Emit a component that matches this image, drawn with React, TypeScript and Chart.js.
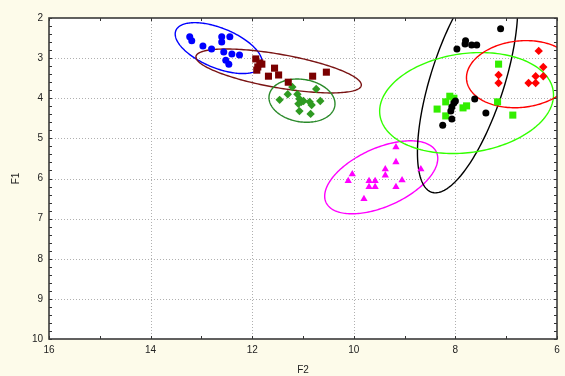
import React, { useEffect, useRef } from "react";
import { Chart, registerables } from "chart.js";
Chart.register(...registerables);

// Axis ticks
const xTicks = [16, 14, 12, 10, 8, 6];
const yTicks = [2, 3, 4, 5, 6, 7, 8, 9, 10];

// Group 1 (blue circles)
const blueX = [13.23, 13.19, 12.97, 12.8, 12.6, 12.6, 12.44, 12.56, 12.4, 12.25, 12.52, 12.46];
const blueY = [2.47, 2.57, 2.7, 2.77, 2.47, 2.6, 2.47, 2.85, 2.9, 2.92, 3.05, 3.15];
// Group 2 (maroon squares)
const maroonX = [11.93, 11.85, 11.89, 11.81, 11.91, 11.56, 11.48, 11.68, 11.29, 10.81, 10.54];
const maroonY = [3.02, 3.12, 3.22, 3.15, 3.3, 3.25, 3.42, 3.45, 3.6, 3.45, 3.35];
// Group 3 (green diamonds)
const greenX = [11.21, 10.74, 11.3, 11.46, 11.11, 11.07, 11.03, 11.09, 10.99, 10.87, 10.83, 10.66, 11.07, 10.85];
const greenY = [3.72, 3.77, 3.9, 4.04, 3.9, 4.02, 4.09, 4.14, 4.07, 4.09, 4.17, 4.07, 4.32, 4.39];
// Group 4 (black circles)
const blackX = [7.11, 7.8, 7.81, 7.68, 7.58, 7.97, 8.0, 8.03, 8.07, 8.09, 8.07, 8.25, 7.62, 7.4];
const blackY = [2.27, 2.57, 2.65, 2.67, 2.67, 2.77, 4.07, 4.12, 4.22, 4.32, 4.52, 4.67, 4.02, 4.37];
// Group 5 (lime squares)
const limeX = [7.15, 8.11, 8.03, 8.19, 8.36, 8.19, 7.85, 7.78, 7.17, 6.87];
const limeY = [3.15, 3.95, 4.0, 4.09, 4.27, 4.44, 4.24, 4.19, 4.09, 4.42];
// Group 6 (red diamonds)
const redX = [6.36, 6.27, 6.42, 6.27, 7.15, 7.15, 6.56, 6.42];
const redY = [2.82, 3.22, 3.45, 3.45, 3.42, 3.62, 3.62, 3.62];
// Group 7 (magenta triangles)
const magentaX = [9.17, 9.17, 9.38, 9.38, 8.68, 10.03, 10.11, 9.7, 9.58, 9.7, 9.58, 9.05, 9.17, 9.8];
const magentaY = [5.22, 5.59, 5.77, 5.92, 5.77, 5.89, 6.06, 6.06, 6.06, 6.21, 6.21, 6.04, 6.21, 6.51];

// Confidence ellipses: centre and two conjugate semi-axis vectors (data units)
const ellipseCX = [12.66, 11.48, 11.02, 9.46, 7.76, 7.78, 6.72];
const ellipseCY = [2.75, 3.32, 4.06, 5.97, 3.55, 4.12, 3.4];
const ellipseAX = [-0.843, -1.627, -0.647, -1.088, 0.706, -1.706, -1.059];
const ellipseAY = [0.436, 0.362, 0.125, -0.623, 2.793, -0.299, -0.15];
const ellipseBX = [0.147, 0.057, 0.059, -0.235, -0.69, -0.133, -0.078];
const ellipseBY = [0.461, 0.411, 0.524, 0.663, 0.282, 1.222, 0.823];
const ellipseColors = ["#0000ff", "#7a1414", "#2a8a2a", "#ff00ff", "#000000", "#33ff00", "#ff0000"];

const pts = (xs: number[], ys: number[]) => xs.map((x, i) => ({ x, y: ys[i] }));

const framePlugin = {
  id: "frame",
  beforeDraw(chart: any) {
    const { ctx, width, height, chartArea: a } = chart;
    ctx.save();
    ctx.fillStyle = "#fdfbea";
    ctx.fillRect(0, 0, width, height);
    ctx.fillStyle = "#ffffff";
    ctx.fillRect(a.left, a.top, a.right - a.left, a.bottom - a.top);
    ctx.restore();
  },
  beforeDatasetsDraw(chart: any) {
    const { ctx, chartArea: a, scales } = chart;
    const xs = scales.x, ys = scales.y;
    ctx.save();
    // dotted grid
    ctx.strokeStyle = "#b0b0b0";
    ctx.lineWidth = 1;
    ctx.setLineDash([1, 2]);
    xTicks.forEach((v) => {
      const p = Math.round(xs.getPixelForValue(v)) + 0.5;
      if (p <= a.left + 1 || p >= a.right - 1) return;
      ctx.beginPath();
      ctx.moveTo(p, a.top);
      ctx.lineTo(p, a.bottom);
      ctx.stroke();
    });
    yTicks.forEach((v) => {
      const p = Math.round(ys.getPixelForValue(v)) + 0.5;
      if (p <= a.top + 1 || p >= a.bottom - 1) return;
      ctx.beginPath();
      ctx.moveTo(a.left, p);
      ctx.lineTo(a.right, p);
      ctx.stroke();
    });
    ctx.setLineDash([]);
    // ellipses
    ctx.beginPath();
    ctx.rect(a.left, a.top, a.right - a.left, a.bottom - a.top);
    ctx.clip();
    ctx.lineWidth = 1.4;
    for (let k = 0; k < ellipseCX.length; k++) {
      ctx.strokeStyle = ellipseColors[k];
      ctx.beginPath();
      const n = 200;
      for (let i = 0; i <= n; i++) {
        const t = (i / n) * Math.PI * 2;
        const dx = ellipseCX[k] + ellipseAX[k] * Math.cos(t) + ellipseBX[k] * Math.sin(t);
        const dy = ellipseCY[k] + ellipseAY[k] * Math.cos(t) + ellipseBY[k] * Math.sin(t);
        const px = xs.getPixelForValue(dx);
        const py = ys.getPixelForValue(dy);
        if (i === 0) ctx.moveTo(px, py);
        else ctx.lineTo(px, py);
      }
      ctx.closePath();
      ctx.stroke();
    }
    ctx.restore();
  },
  afterDatasetsDraw(chart: any) {
    const { ctx, chartArea: a, scales } = chart;
    const xs = scales.x, ys = scales.y;
    ctx.save();
    ctx.strokeStyle = "#333333";
    ctx.lineWidth = 1;
    // minor/major ticks inside all four sides
    for (let v = 6; v <= 16; v += 1) {
      const p = Math.round(xs.getPixelForValue(v)) + 0.5;
      ctx.beginPath();
      ctx.moveTo(p, a.bottom);
      ctx.lineTo(p, a.bottom - 3);
      ctx.moveTo(p, a.top);
      ctx.lineTo(p, a.top + 3);
      ctx.stroke();
    }
    for (let i = 0; i <= 40; i++) {
      const v = 2 + i * 0.2;
      const p = Math.round(ys.getPixelForValue(v)) + 0.5;
      ctx.beginPath();
      ctx.moveTo(a.left, p);
      ctx.lineTo(a.left + 3, p);
      ctx.moveTo(a.right, p);
      ctx.lineTo(a.right - 3, p);
      ctx.stroke();
    }
    // frame
    ctx.lineWidth = 1.6;
    ctx.strokeStyle = "#3a3a3a";
    ctx.strokeRect(a.left, a.top, a.right - a.left, a.bottom - a.top);
    ctx.restore();
  },
};

export default function App() {
  const ref = useRef<HTMLCanvasElement>(null);
  useEffect(() => {
    document.body.style.margin = "0";
    document.body.style.background = "#fdfbea";
    const font = { family: "'Liberation Sans', Arial, sans-serif", size: 10 };
    const chart = new Chart(ref.current as HTMLCanvasElement, {
      type: "scatter",
      data: {
        datasets: [
          { label: "1", data: pts(blueX, blueY), pointStyle: "circle", pointRadius: 3.5, backgroundColor: "#0000ff", borderColor: "#0000ff", borderWidth: 0 },
          { label: "2", data: pts(maroonX, maroonY), pointStyle: "rect", pointRadius: 5, backgroundColor: "#7a0000", borderColor: "#7a0000", borderWidth: 0 },
          { label: "3", data: pts(greenX, greenY), pointStyle: "rectRot", pointRadius: 4.2, backgroundColor: "#2f9a22", borderColor: "#2f9a22", borderWidth: 0 },
          { label: "4", data: pts(blackX, blackY), pointStyle: "circle", pointRadius: 3.5, backgroundColor: "#000000", borderColor: "#000000", borderWidth: 0 },
          { label: "5", data: pts(limeX, limeY), pointStyle: "rect", pointRadius: 5, backgroundColor: "#33ee00", borderColor: "#33ee00", borderWidth: 0 },
          { label: "6", data: pts(redX, redY), pointStyle: "rectRot", pointRadius: 4.2, backgroundColor: "#ff0000", borderColor: "#ff0000", borderWidth: 0 },
          { label: "7", data: pts(magentaX, magentaY), pointStyle: "triangle", pointRadius: 4.2, backgroundColor: "#ff00ff", borderColor: "#ff00ff", borderWidth: 0 },
        ],
      },
      options: {
        animation: false,
        responsive: false,
        layout: { padding: { top: 18, right: 8, left: 0, bottom: 0 } },
        plugins: { legend: { display: false }, tooltip: { enabled: false } },
        scales: {
          x: {
            type: "linear",
            min: 6,
            max: 16,
            reverse: true,
            afterBuildTicks: (s: any) => {
              s.ticks = xTicks.map((v) => ({ value: v }));
            },
            afterFit: (s: any) => {
              s.height = 37;
            },
            grid: { display: false, drawTicks: false },
            border: { display: false },
            ticks: { font, color: "#222", padding: 5, maxRotation: 0, autoSkip: false },
            title: { display: true, text: "F2", font, color: "#222", padding: { top: 0, bottom: 0 } },
          },
          y: {
            type: "linear",
            min: 2,
            max: 10,
            reverse: true,
            afterBuildTicks: (s: any) => {
              s.ticks = yTicks.map((v) => ({ value: v }));
            },
            afterFit: (s: any) => {
              s.width = 49;
            },
            grid: { display: false, drawTicks: false },
            border: { display: false },
            ticks: { font, color: "#222", padding: 6, autoSkip: false },
            title: { display: true, text: "F1", font, color: "#222", padding: { top: 10, bottom: 0 } },
          },
        },
      },
      plugins: [framePlugin],
    } as any);
    return () => chart.destroy();
  }, []);
  return <canvas ref={ref} width={565} height={376} style={{ display: "block" }} />;
}
